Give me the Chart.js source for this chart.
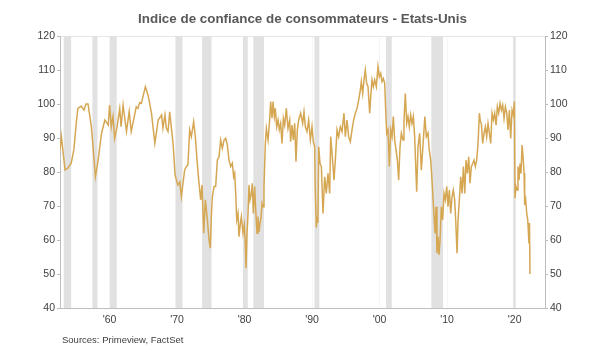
<!DOCTYPE html>
<html>
<head>
<meta charset="utf-8">
<script src="https://cdn.jsdelivr.net/npm/chart.js@4.4.1/dist/chart.umd.min.js"></script>
<style>
  html, body { margin: 0; padding: 0; background: #ffffff; }
  #wrap { position: relative; width: 605px; height: 351px; overflow: hidden; }
  #c { position: absolute; left: 0; top: 0; }
  #title { position: absolute; left: 0; width: 605px; top: 11px; text-align: center;
           font-family: "Liberation Sans", Arial, sans-serif; font-weight: bold; font-size: 13.4px; color: #595959; }
  #src { position: absolute; left: 62px; top: 334px;
         font-family: "Liberation Sans", Arial, sans-serif; font-size: 9.5px; color: #404040; }
</style>
</head>
<body>
<div id="wrap">
  <canvas id="c" width="605" height="351"></canvas>
  <div id="title">Indice de confiance de consommateurs - Etats-Unis</div>
  <div id="src">Sources: Primeview, FactSet</div>
</div>
<script>
// ---- Data ----
const years = [
  1952.65,1952.85,1953.4,1953.8,1954.3,1954.7,1955.1,1955.3,1955.8,1956.2,1956.5,1956.8,1957.3,1957.9,1958.3,1958.8,
  1959.3,1959.8,1960.0,1960.25,1960.5,1960.75,1961.1,1961.5,1961.7,1962.0,1962.5,1962.9,1963.2,1963.6,1963.95,1964.2,
  1964.45,1964.7,1965.3,1965.7,1966.2,1966.7,1967.2,1967.7,1967.9,1968.2,1968.4,1968.65,1968.9,1969.4,1969.7,1970.1,
  1970.4,1970.63,1970.87,1971.12,1971.37,1971.6,1971.86,1972.11,1972.45,1972.7,1972.95,1973.2,1973.49,1973.69,1973.94,1974.18,
  1974.48,1974.73,1974.92,1975.07,1975.22,1975.47,1975.71,1975.96,1976.21,1976.45,1976.7,1976.95,1977.2,1977.44,1977.69,1977.94,
  1978.18,1978.38,1978.53,1978.68,1978.83,1979.02,1979.17,1979.37,1979.52,1979.76,1979.95,1980.08,1980.2,1980.35,1980.5,1980.65,
  1980.8,1981.0,1981.14,1981.29,1981.49,1981.64,1981.84,1981.98,1982.13,1982.28,1982.43,1982.58,1982.73,1982.87,1983.07,1983.22,
  1983.47,1983.71,1983.86,1984.06,1984.21,1984.4,1984.55,1984.75,1984.95,1985.14,1985.34,1985.54,1985.74,1985.94,1986.18,1986.43,
  1986.68,1986.82,1987.02,1987.22,1987.42,1987.61,1987.81,1988.01,1988.3,1988.6,1988.8,1989.0,1989.24,1989.49,1989.74,1989.98,
  1990.18,1990.38,1990.45,1990.62,1990.75,1990.85,1990.97,1991.17,1991.37,1991.61,1991.86,1992.1,1992.35,1992.6,1992.75,1992.99,
  1993.24,1993.44,1993.69,1993.93,1994.18,1994.43,1994.72,1994.92,1995.17,1995.41,1995.66,1995.91,1996.16,1996.4,1996.65,1996.9,
  1997.14,1997.29,1997.49,1997.69,1997.88,1998.08,1998.28,1998.53,1998.68,1998.87,1999.07,1999.27,1999.51,1999.76,1999.96,2000.16,
  2000.36,2000.55,2000.75,2000.9,2001.05,2001.24,2001.44,2001.64,2001.84,2002.03,2002.23,2002.43,2002.63,2002.82,2003.02,2003.22,
  2003.47,2003.61,2003.81,2004.01,2004.2,2004.4,2004.6,2004.8,2005.0,2005.19,2005.49,2005.69,2005.93,2006.18,2006.43,2006.7,
  2006.92,2007.17,2007.32,2007.57,2007.76,2008.01,2008.21,2008.36,2008.5,2008.65,2008.8,2008.95,2009.14,2009.34,2009.54,2009.74,
  2009.94,2010.13,2010.33,2010.53,2010.73,2010.92,2011.12,2011.27,2011.47,2011.62,2011.81,2012.01,2012.21,2012.41,2012.61,2012.8,
  2013.0,2013.2,2013.39,2013.59,2013.79,2013.99,2014.18,2014.38,2014.58,2014.78,2014.92,2015.07,2015.27,2015.47,2015.67,2015.86,
  2016.06,2016.26,2016.46,2016.65,2016.85,2017.05,2017.25,2017.44,2017.64,2017.84,2018.04,2018.23,2018.43,2018.63,2018.83,2019.02,
  2019.22,2019.42,2019.62,2019.81,2019.96,2020.06,2020.21,2020.36,2020.5,2020.65,2020.8,2020.95,2021.1,2021.25,2021.4,2021.49,
  2021.64,2021.79,2021.94,2022.05,2022.12,2022.2,2022.28
];
const sentiment = [
  86.5,90.4,80.6,81.1,82.5,86.5,95.3,98.7,99.4,98.2,100.0,100.0,93.3,78.6,83.5,91.4,
  95.3,93.8,99.7,93.3,96.3,89.9,93.3,98.7,93.3,99.7,91.9,97.8,91.9,95.8,99.2,98.7,
  100.4,100.2,105.1,102.6,97.3,88.4,95.3,96.8,92.9,96.8,92.9,91.9,97.7,88.4,79.1,76.2,
  77.1,72.7,76.7,80.6,81.6,82.1,92.4,90.4,94.8,90.4,83.5,77.6,71.8,76.2,62.0,71.8,
  65.9,60.0,57.6,66.9,72.7,75.7,75.7,83.5,84.5,89.4,87.0,89.4,89.9,87.9,83.5,81.6,
  82.6,78.6,79.6,73.7,65.9,67.8,61.0,64.9,66.9,62.0,64.5,60.0,51.7,62.0,67.5,76.2,
  71.8,73.7,76.7,67.8,75.7,68.8,62.0,66.9,62.4,64.9,66.4,70.8,69.8,75.7,88.4,92.8,
  89.4,95.3,100.7,95.8,100.7,96.3,98.7,93.3,95.3,92.4,94.3,88.4,95.8,93.8,98.7,92.8,
  95.3,88.9,93.8,89.4,94.3,83.0,92.4,95.3,97.3,94.3,97.7,93.3,91.9,95.3,89.4,93.3,
  88.9,87.4,76.0,63.7,66.9,65.0,87.4,82.5,81.6,67.8,78.6,73.7,79.6,73.7,90.4,84.5,
  77.6,83.5,92.4,90.4,93.3,91.9,97.3,90.4,95.3,90.4,88.9,92.4,95.3,97.3,98.7,101.2,
  104.1,106.6,103.1,107.1,110.0,106.1,105.1,97.3,102.2,107.1,105.1,107.1,105.1,111.0,108.0,109.0,
  106.6,107.5,106.1,98.2,91.4,92.4,81.6,92.4,90.4,96.3,89.4,86.5,83.5,77.6,87.4,91.4,
  89.4,95.3,103.1,94.3,96.3,93.3,96.8,94.3,96.3,90.4,74.2,87.4,91.4,80.5,88.0,96.3,
  90.4,91.5,87.0,83.5,77.6,68.8,62.0,69.8,56.1,61.0,55.6,60.0,69.8,65.9,73.7,71.8,
  75.7,69.8,74.7,67.8,72.7,74.7,71.8,65.9,56.1,65.9,71.8,78.6,73.7,81.6,73.7,83.5,
  79.6,84.5,76.7,81.6,82.5,83.5,81.6,83.5,88.4,97.3,94.8,94.3,88.4,91.4,93.3,90.4,
  94.3,91.4,88.4,97.3,95.3,97.3,93.8,99.2,97.3,100.2,98.2,99.7,95.8,99.2,97.3,92.4,
  98.2,89.9,98.2,96.8,100.7,72.3,75.7,74.7,81.6,77.6,82.5,79.6,87.9,84.5,79.6,70.3,
  71.8,67.8,66.0,62.0,59.0,65.0,50.0
];
// Recession periods (shaded)
const recessionStart = [1953.2,1957.45,1960.05,1969.75,1973.7,1979.75,1981.3,1990.35,2000.95,2007.66,2019.78];
const recessionEnd   = [1954.3,1958.2,1961.05,1970.8,1975.1,1980.47,1982.88,1991.07,2001.8,2009.39,2020.16];
// Axis ticks
const xTickValues = [1960,1970,1980,1990,2000,2010,2020];
const xTickLabels = ["'60","'70","'80","'90","'00","'10","'20"];
const yTicks = [40,50,60,70,80,90,100,110,120];

const points = years.map((y, i) => ({ x: y, y: sentiment[i] }));

const recessionPlugin = {
  id: 'recessions',
  beforeDatasetsDraw(chart) {
    const { ctx, chartArea, scales } = chart;
    ctx.save();
    ctx.fillStyle = '#e1e1e1';
    recessionStart.forEach((s, i) => {
      const x0 = scales.x.getPixelForValue(s);
      const x1 = scales.x.getPixelForValue(recessionEnd[i]);
      ctx.fillRect(x0, chartArea.top, x1 - x0, chartArea.bottom - chartArea.top);
    });
    ctx.restore();
  }
};

const tickFont = { family: '"Liberation Sans", Arial, sans-serif', size: 10.5 };
const yAxisCommon = {
  type: 'linear', min: 40, max: 120,
  afterBuildTicks: (s) => { s.ticks = yTicks.map(v => ({ value: v })); },
  border: { color: '#bdbdbd' },
  ticks: { font: tickFont, color: '#404040', padding: 2 },
};

new Chart(document.getElementById('c'), {
  type: 'line',
  data: {
    datasets: [{
      data: points,
      borderColor: '#d5a753',
      borderWidth: 1.5,
      pointRadius: 0,
      tension: 0,
      fill: false
    }]
  },
  options: {
    responsive: false,
    animation: false,
    devicePixelRatio: 1,
    layout: { padding: { top: 36, bottom: 0, left: 0, right: 0 } },
    plugins: { legend: { display: false }, tooltip: { enabled: false }, title: { display: false } },
    scales: {
      x: {
        type: 'linear', min: 1952.65, max: 2024.5,
        afterBuildTicks: (s) => { s.ticks = xTickValues.map(v => ({ value: v })); },
        afterFit: (s) => { s.height = 43; },
        grid: { color: '#f5f5f5', drawTicks: false },
        border: { color: '#bdbdbd' },
        ticks: { font: tickFont, color: '#404040', padding: 6, maxRotation: 0,
                 callback: (v, i) => xTickLabels[i] }
      },
      y: Object.assign({}, yAxisCommon, {
        position: 'left',
        afterFit: (s) => { s.width = 60; },
        grid: { color: (c) => c.tick && c.tick.value === 120 ? '#e6e6e6' : 'rgba(0,0,0,0)', tickColor: '#bdbdbd', tickLength: 3 }
      }),
      y2: Object.assign({}, yAxisCommon, {
        position: 'right',
        afterFit: (s) => { s.width = 60; },
        grid: { drawOnChartArea: false, tickColor: '#bdbdbd', tickLength: 3 }
      })
    }
  },
  plugins: [recessionPlugin]
});
</script>
</body>
</html>
